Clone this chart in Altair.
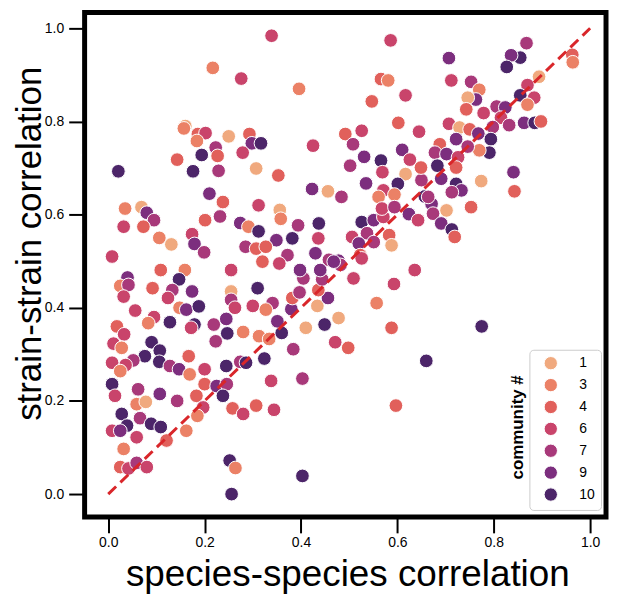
import altair as alt
import pandas as pd

# ---- data (species-species vs strain-strain correlation) ----
species_corr = [
    0.217, 0.276, 0.160, 0.157, 0.186, 0.202, 0.184, 0.250, 0.223, 0.227, 0.194, 0.143, 0.176, 0.229, 0.021,
    0.293, 0.298, 0.317, 0.279, 0.307, 0.210, 0.238, 0.232, 0.201, 0.035, 0.069, 0.080, 0.095, 0.032, 0.073,
    0.106, 0.131, 0.008, 0.174, 0.179, 0.199, 0.274, 0.291, 0.312, 0.312, 0.285, 0.307,
    0.109, 0.159, 0.147, 0.040, 0.025, 0.042, 0.092, 0.133, 0.174, 0.255, 0.255, 0.255, 0.310, 0.032, 0.124,
    0.148, 0.162, 0.188, 0.056, 0.300, 0.263, 0.095, 0.083, 0.128, 0.179, 0.172, 0.219, 0.245, 0.247, 0.280,
    0.313, 0.018, 0.033, 0.011, 0.028, 0.090, 0.107, 0.076, 0.106, 0.052, 0.036, 0.008, 0.025, 0.128, 0.167,
    0.147, 0.169, 0.200, 0.223, 0.245, 0.274, 0.286, 0.200, 0.225, 0.246, 0.238, 0.008, 0.014, 0.062, 0.107,
    0.143, 0.059, 0.078, 0.183, 0.197, 0.185, 0.258, 0.280, 0.307, 0.028, 0.039, 0.066, 0.089, 0.109, 0.008,
    0.025, 0.059, 0.121, 0.162, 0.032, 0.025, 0.042, 0.059, 0.080, 0.252, 0.264, 0.256,
    0.339, 0.586, 0.396, 0.566, 0.581, 0.547, 0.617, 0.602, 0.645, 0.492, 0.526, 0.508, 0.531, 0.502, 0.566,
    0.569, 0.610, 0.626, 0.425, 0.353, 0.535, 0.617, 0.601, 0.650, 0.649, 0.423, 0.456, 0.484, 0.571, 0.561,
    0.594, 0.657, 0.671, 0.356, 0.358, 0.394, 0.437, 0.382, 0.349, 0.372, 0.436, 0.430, 0.458, 0.526, 0.551,
    0.571, 0.568, 0.594, 0.624, 0.643, 0.537, 0.506, 0.520, 0.551, 0.583, 0.588, 0.523, 0.478, 0.327,
    0.636, 0.593, 0.557, 0.588, 0.660, 0.597, 0.403, 0.403, 0.338, 0.344, 0.324, 0.384, 0.360, 0.334, 0.351,
    0.341, 0.327, 0.380, 0.382, 0.397, 0.410, 0.434, 0.449, 0.478, 0.456, 0.436, 0.471, 0.498, 0.405, 0.398,
    0.444, 0.440, 0.482, 0.509, 0.526, 0.468, 0.355, 0.320,
    0.868, 0.855, 0.836, 0.827, 0.963, 0.964, 0.894, 0.870, 0.884, 0.855, 0.870, 0.707, 0.712, 0.753, 0.770,
    0.763, 0.746, 0.743, 0.779, 0.806, 0.824, 0.815, 0.832, 0.863, 0.885, 0.898, 0.707, 0.729, 0.750, 0.768,
    0.798, 0.794, 0.791, 0.770, 0.746, 0.722, 0.688, 0.678, 0.702, 0.726, 0.683, 0.722, 0.841, 0.843, 0.774,
    0.722, 0.733, 0.713, 0.691, 0.753, 0.702, 0.674, 0.691, 0.713, 0.719, 0.664, 0.775,
]
strain_corr = [
    0.915, 0.892, 0.790, 0.785, 0.773, 0.775, 0.758, 0.768, 0.744, 0.726, 0.728, 0.718, 0.693, 0.694, 0.693,
    0.773, 0.753, 0.753, 0.733, 0.699, 0.645, 0.627, 0.596, 0.588, 0.613, 0.616, 0.604, 0.588, 0.574, 0.574,
    0.550, 0.536, 0.510, 0.558, 0.537, 0.519, 0.582, 0.574, 0.564, 0.620, 0.531, 0.527,
    0.481, 0.481, 0.461, 0.465, 0.447, 0.449, 0.442, 0.438, 0.435, 0.435, 0.417, 0.481, 0.442, 0.424, 0.421,
    0.400, 0.396, 0.403, 0.394, 0.404, 0.400, 0.380, 0.367, 0.369, 0.364, 0.357, 0.364, 0.376, 0.345, 0.348,
    0.339, 0.360, 0.343, 0.323, 0.314, 0.326, 0.308, 0.296, 0.284, 0.287, 0.277, 0.282, 0.264, 0.275, 0.296,
    0.268, 0.257, 0.268, 0.328, 0.275, 0.284, 0.282, 0.236, 0.232, 0.236, 0.211, 0.236, 0.211, 0.225, 0.215,
    0.200, 0.193, 0.198, 0.211, 0.186, 0.168, 0.184, 0.172, 0.190, 0.172, 0.147, 0.163, 0.151, 0.144, 0.136,
    0.136, 0.122, 0.115, 0.136, 0.097, 0.058, 0.055, 0.067, 0.058, 0.072, 0.056, 0.000,
    0.984, 0.974, 0.870, 0.891, 0.888, 0.843, 0.856, 0.797, 0.778, 0.773, 0.780, 0.751, 0.724, 0.705, 0.716,
    0.691, 0.739, 0.718, 0.748, 0.684, 0.667, 0.687, 0.666, 0.674, 0.701, 0.655, 0.650, 0.638, 0.652, 0.638,
    0.643, 0.639, 0.623, 0.610, 0.591, 0.577, 0.581, 0.549, 0.545, 0.513, 0.549, 0.517, 0.503, 0.584, 0.588,
    0.595, 0.613, 0.616, 0.601, 0.588, 0.560, 0.552, 0.538, 0.541, 0.556, 0.534, 0.513, 0.501, 0.531,
    0.481, 0.451, 0.410, 0.357, 0.286, 0.190, 0.039, 0.248, 0.243, 0.181, 0.291, 0.311, 0.346, 0.333, 0.371,
    0.410, 0.396, 0.397, 0.421, 0.433, 0.357, 0.404, 0.364, 0.378, 0.421, 0.438, 0.326, 0.314, 0.463, 0.481,
    0.461, 0.481, 0.492, 0.463, 0.506, 0.499, 0.495, 0.499,
    0.968, 0.937, 0.942, 0.917, 0.943, 0.927, 0.896, 0.878, 0.851, 0.856, 0.836, 0.936, 0.888, 0.885, 0.868,
    0.847, 0.851, 0.826, 0.818, 0.832, 0.830, 0.808, 0.792, 0.797, 0.797, 0.800, 0.795, 0.787, 0.783, 0.774,
    0.788, 0.762, 0.733, 0.738, 0.746, 0.762, 0.751, 0.733, 0.730, 0.723, 0.705, 0.701, 0.691, 0.650, 0.672,
    0.666, 0.652, 0.648, 0.677, 0.616, 0.609, 0.602, 0.581, 0.568, 0.552, 0.638, 0.360,
]
community = [
    3, 6, 1, 3, 4, 6, 3, 1, 7, 4, 10, 4, 10, 7, 10,
    4, 9, 10, 6, 1, 9, 4, 7, 4, 3, 1, 9, 7, 6, 4,
    3, 1, 6, 6, 9, 7, 9, 3, 10, 6, 7, 4,
    4, 3, 10, 9, 3, 7, 4, 7, 9, 1, 7, 6, 10, 6, 6,
    3, 9, 10, 6, 6, 6, 6, 3, 10, 10, 6, 7, 9, 10, 3,
    3, 4, 6, 6, 3, 10, 10, 10, 10, 7, 6, 6, 3, 7, 4,
    9, 3, 6, 7, 10, 7, 10, 4, 9, 7, 10, 10, 6, 7, 9,
    7, 3, 1, 4, 6, 3, 4, 6, 4, 10, 10, 7, 10, 10, 6,
    9, 6, 4, 3, 3, 4, 6, 7, 6, 10, 3, 10,
    6, 6, 3, 4, 3, 4, 6, 4, 6, 4, 6, 7, 9, 7, 10,
    6, 9, 6, 6, 4, 9, 1, 10, 7, 4, 9, 1, 7, 6, 3,
    3, 10, 9, 1, 3, 7, 10, 10, 9, 7, 6, 9, 7, 10, 9,
    6, 6, 7, 9, 6, 7, 6, 9, 7, 4, 1, 4, 9, 4,
    6, 6, 3, 4, 10, 4, 10, 7, 6, 6, 10, 7, 10, 3, 9,
    7, 3, 9, 4, 7, 1, 1, 10, 1, 9, 4, 6, 4, 7, 9,
    7, 9, 7, 6, 6, 9, 6, 4,
    7, 10, 9, 10, 4, 3, 1, 6, 6, 10, 3, 9, 6, 7, 3,
    9, 1, 4, 6, 7, 9, 6, 7, 9, 10, 4, 6, 1, 4, 9,
    7, 10, 10, 3, 7, 9, 4, 7, 9, 6, 10, 4, 9, 4, 1,
    10, 9, 7, 9, 4, 1, 7, 9, 10, 4, 7, 10,
]

community_ids = [1, 3, 4, 6, 7, 9, 10]
palette = ["#f0a97e", "#eb8166", "#e1605b", "#c9446b", "#a8397a", "#7c2e7e", "#4c2569"]
tick_values = [0.0, 0.2, 0.4, 0.6, 0.8, 1.0]
diag_x = [0.0, 1.0]
diag_y = [0.0, 1.0]
legend_title = ["community #"]

points_df = pd.DataFrame({"species": species_corr, "strain": strain_corr, "community": community})
diag_df = pd.DataFrame({"species": diag_x, "strain": diag_y})
title_df = pd.DataFrame({"t": legend_title})

FONT = "Liberation Sans"

x_enc = alt.X(
    "species:Q",
    scale=alt.Scale(domain=[-0.049, 1.033], nice=False, zero=False),
    axis=alt.Axis(
        values=tick_values, format=".1f", title="species-species correlation",
        titleFontSize=37, titleX=264, titleY=69, titleBaseline="alphabetic",
        titleAlign="center", labelPadding=3, labelFlush=False,
    ),
)
y_enc = alt.Y(
    "strain:Q",
    scale=alt.Scale(domain=[-0.049, 1.034], nice=False, zero=False),
    axis=alt.Axis(
        values=tick_values, format=".1f", title="strain-strain correlation",
        titleFontSize=35, titleAngle=270, titleX=-44, titleY=232,
        titleBaseline="alphabetic", titleAlign="center", labelPadding=5, labelFlush=False,
    ),
)

points = alt.Chart(points_df).mark_circle(size=190, opacity=1, stroke="white", strokeWidth=1).encode(
    x=x_enc,
    y=y_enc,
    color=alt.Color(
        "community:O",
        scale=alt.Scale(domain=community_ids, range=palette),
        legend=alt.Legend(
            title=None, orient="none", legendX=447, legendY=339,
            fillColor="white", strokeColor="#cccccc", cornerRadius=4, padding=6,
            symbolOffset=8, labelOffset=21, rowPadding=3,
            labelFontSize=14, labelFont=FONT, labelColor="black",
            symbolSize=180, symbolType="circle", symbolStrokeColor="white",
            symbolStrokeWidth=1, symbolOpacity=1,
        ),
    ),
)

diag = alt.Chart(diag_df).mark_line(color="#d9262a", strokeWidth=3, strokeDash=[11, 6]).encode(
    x="species:Q", y="strain:Q"
)

ltitle = alt.Chart(title_df).mark_text(
    angle=270, fontSize=17, fontWeight="bold", font=FONT, align="center",
    baseline="alphabetic", color="black",
).encode(x=alt.value(441), y=alt.value(417), text="t:N")

chart = (
    alt.layer(points, diag, ltitle)
    .properties(
        width=524, height=507,
        autosize=alt.AutoSizeParams(type="none"),
        padding={"left": 77, "top": 3, "right": 3, "bottom": 77},
        background="white",
    )
    .configure_view(stroke="black", strokeWidth=5)
    .configure_axis(
        grid=False, domain=False, ticks=True, tickColor="black", tickWidth=2, tickSize=16,
        labelFont=FONT, labelFontSize=14, labelColor="black",
        titleFont=FONT, titleFontWeight="normal", titleColor="black",
    )
)

chart.save("out.html", embed_options={"renderer": "svg", "actions": False})
